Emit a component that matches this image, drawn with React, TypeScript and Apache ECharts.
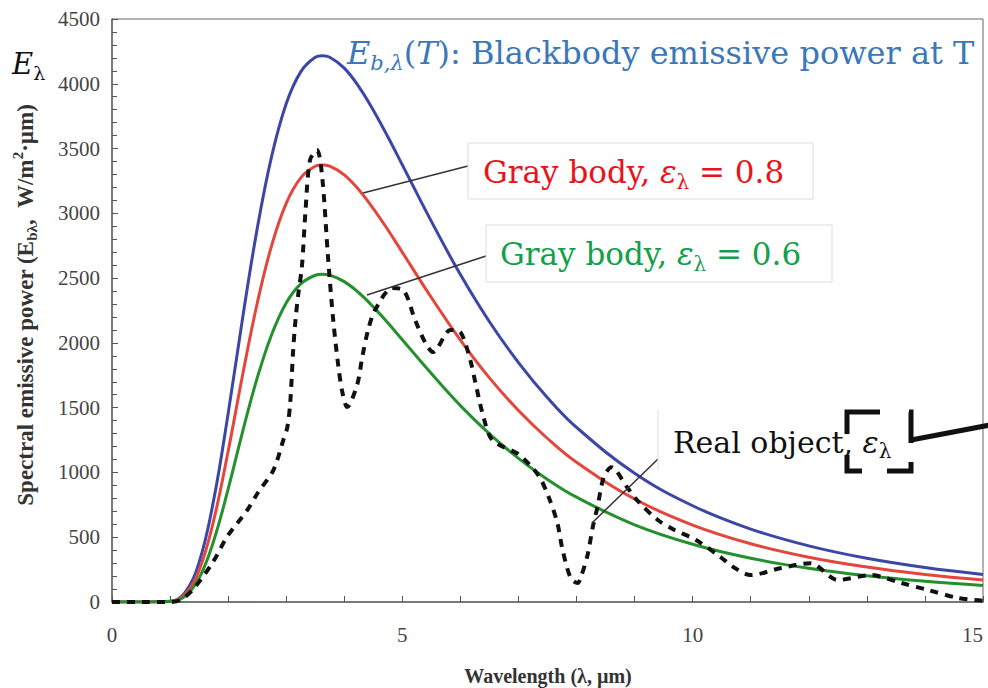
import React, { useEffect, useRef } from 'react';
import * as echarts from 'echarts';

// Wavelength grid (µm) for the smooth curves
const WAVELENGTH = [0, 0.5, 1, 1.25, 1.5, 1.75, 2, 2.25, 2.5, 2.75, 3, 3.25, 3.5, 3.62, 3.75, 4, 4.25, 4.5, 4.75, 5, 5.5, 6, 6.5, 7, 7.5, 8, 9, 10, 11, 12, 13, 14, 15];
// Blackbody emissive power (blue)
const BLACKBODY = [0, 0, 5.8, 69, 306, 785, 1454, 2193, 2880, 3441, 3846, 4092, 4204, 4216, 4205, 4121, 3978, 3796, 3591, 3374, 2938, 2527, 2163, 1848, 1577, 1348, 994, 743, 563, 433, 337, 266, 213];
// Gray body, emissivity 0.8 (red)
const GRAY_08 = [0, 0, 4.6, 55, 245, 628, 1163, 1754, 2304, 2753, 3077, 3274, 3363, 3373, 3364, 3297, 3182, 3037, 2873, 2699, 2350, 2022, 1730, 1478, 1262, 1078, 795, 594, 450, 346, 270, 213, 170];
// Gray body, emissivity 0.6 (green)
const GRAY_06 = [0, 0, 3.5, 41, 184, 471, 872, 1316, 1728, 2065, 2308, 2455, 2522, 2530, 2523, 2473, 2387, 2278, 2155, 2024, 1763, 1516, 1298, 1109, 946, 809, 596, 446, 338, 260, 202, 160, 128];
// Real object (black dashed)
const REAL_X = [0, 0.5, 1, 1.2, 1.43, 1.74, 1.98, 2.33, 2.52, 2.78, 2.95, 3.02, 3.07, 3.12, 3.16, 3.21, 3.27, 3.33, 3.41, 3.53, 3.62, 3.72, 3.81, 3.9, 3.97, 4.05, 4.22, 4.31, 4.41, 4.53, 4.83, 5.02, 5.22, 5.4, 5.53, 5.83, 6.0, 6.17, 6.26, 6.38, 6.55, 7.0, 7.34, 7.52, 7.67, 7.76, 7.9, 8.02, 8.07, 8.19, 8.28, 8.36, 8.47, 8.6, 8.88, 9.07, 9.4, 9.67, 10.05, 10.48, 10.7, 11.0, 11.52, 12.03, 12.5, 13.07, 13.59, 14.05, 14.57, 15.0];
const REAL_Y = [0, 0, 0, 20, 116, 309, 502, 710, 849, 1018, 1250, 1350, 1543, 1944, 2176, 2384, 2585, 3001, 3411, 3488, 3280, 2662, 2176, 1813, 1613, 1505, 1674, 1890, 2099, 2253, 2423, 2407, 2176, 1998, 1929, 2099, 2083, 1867, 1690, 1458, 1250, 1140, 980, 810, 610, 401, 185, 147, 185, 363, 579, 733, 965, 1040, 880, 772, 633, 560, 480, 347, 270, 208, 262, 300, 170, 208, 147, 93, 31, 10];

const X_MIN = 0, X_MAX = 15, X_STEP = 5;
const Y_MIN = 0, Y_MAX = 4500, Y_STEP = 500;

const TITLE = '): Blackbody emissive power at T';
const LABEL_GRAY = 'Gray body, ';
const LABEL_REAL = 'Real object, ';
const X_NAME = 'Wavelength (λ, µm)';

const SERIF = 'DejaVu Serif';
const TIMES = 'Liberation Serif';

export default function App() {
  const ref = useRef<HTMLDivElement>(null);
  useEffect(() => {
    const chart = echarts.init(ref.current!, null, { renderer: 'svg' });
    const pairs = (xs: number[], ys: number[]) => xs.map((x, i) => [x, ys[i]]);
    const blue = '#3b78b8';
    const richLabel = (color: string, size: number) => ({
      n: { fontFamily: SERIF, fontSize: size, fill: color, lineHeight: size + 8 },
      e: { fontFamily: SERIF, fontStyle: 'italic', fontSize: size, fill: color, lineHeight: size + 8 },
      s: { fontFamily: SERIF, fontStyle: 'italic', fontSize: Math.round(size * 0.66), fill: color, lineHeight: Math.round(size * 0.66), verticalAlign: 'bottom' },
      u: { fontFamily: SERIF, fontSize: Math.round(size * 0.66), fill: color, lineHeight: Math.round(size * 0.66), verticalAlign: 'bottom' },
    });
    const thick = { stroke: '#111', lineWidth: 5 };
    const plain = (v: number) => String(v);
    chart.setOption({
      animation: false,
      backgroundColor: '#fff',
      grid: { left: 112, right: 5, top: 19, bottom: 86, show: true, borderColor: '#666', borderWidth: 1, outerBoundsMode: 'none', containLabel: false },
      xAxis: {
        type: 'value', min: X_MIN, max: X_MAX, interval: X_STEP,
        axisLine: { show: true, lineStyle: { color: '#666', width: 1.5 } },
        axisTick: { show: true, inside: true, length: 6, lineStyle: { color: '#555' } },
        minorTick: { show: true, splitNumber: 5, length: 6, lineStyle: { color: '#555' } },
        splitLine: { show: false },
        axisLabel: { margin: 22, fontFamily: TIMES, fontSize: 21, color: '#444', formatter: plain, hideOverlap: false, alignMaxLabel: 'right' },
      },
      yAxis: {
        type: 'value', min: Y_MIN, max: Y_MAX, interval: Y_STEP,
        axisLine: { show: true, lineStyle: { color: '#666', width: 1.5 } },
        axisTick: { show: true, inside: true, length: 6, lineStyle: { color: '#555' } },
        minorTick: { show: true, splitNumber: 5, length: 5, lineStyle: { color: '#555' } },
        splitLine: { show: false },
        axisLabel: { margin: 12, fontFamily: TIMES, fontSize: 21, color: '#444', formatter: plain },
      },
      series: [
        { type: 'line', data: pairs(WAVELENGTH, BLACKBODY), smooth: 0.4, showSymbol: false, lineStyle: { color: '#3c46a5', width: 3 }, z: 3 },
        { type: 'line', data: pairs(WAVELENGTH, GRAY_08), smooth: 0.4, showSymbol: false, lineStyle: { color: '#e3463c', width: 3 }, z: 3 },
        { type: 'line', data: pairs(WAVELENGTH, GRAY_06), smooth: 0.4, showSymbol: false, lineStyle: { color: '#24902e', width: 3 }, z: 3 },
        { type: 'line', data: pairs(REAL_X, REAL_Y), smooth: 0.3, showSymbol: false, lineStyle: { color: '#111', width: 4, type: [8, 7] }, z: 4 },
      ],
      graphic: [
        // axis names
        { type: 'text', x: 25, y: 305, rotation: Math.PI / 2, z: 100,
          style: { text: '{n|Spectral emissive power (E}{u|bλ}{n|,  W/m}{p|2}{n|·µm)}', align: 'center', verticalAlign: 'middle',
            rich: {
              n: { fontFamily: TIMES, fontWeight: 'bold', fontSize: 23, fill: '#333', lineHeight: 29 },
              u: { fontFamily: TIMES, fontWeight: 'bold', fontSize: 15, fill: '#333', lineHeight: 15, verticalAlign: 'bottom' },
              p: { fontFamily: TIMES, fontWeight: 'bold', fontSize: 15, fill: '#333', lineHeight: 15, verticalAlign: 'top' },
            } } },
        { type: 'text', x: 548, y: 676, z: 100,
          style: { text: X_NAME, align: 'center', verticalAlign: 'middle', fontFamily: TIMES, fontWeight: 'bold', fontSize: 20, fill: '#333' } },
        // E_lambda at top-left
        { type: 'text', x: 12, y: 64, z: 100,
          style: { text: '{e|E}{u|λ}', align: 'left', verticalAlign: 'middle', rich: richLabel('#111', 29) } },
        // Blackbody title
        { type: 'text', x: 347, y: 53, z: 100,
          style: { text: '{e|E}{s|b,λ}{n|(}{e|T}{n|' + TITLE + '}', align: 'left', verticalAlign: 'middle', rich: richLabel(blue, 32) } },
        // Gray body 0.8
        { type: 'line', z: 90, shape: { x1: 468, y1: 166, x2: 363, y2: 193 }, style: { stroke: '#333', lineWidth: 1.5 } },
        { type: 'rect', z: 95, shape: { x: 468, y: 143, width: 345, height: 56 }, style: { fill: '#fff', stroke: '#ddd', lineWidth: 1 } },
        { type: 'text', x: 483, y: 172, z: 100,
          style: { text: '{n|' + LABEL_GRAY + '}{e|ε}{u|λ}{n| = 0.8}', align: 'left', verticalAlign: 'middle', rich: richLabel('#e8141a', 31) } },
        // Gray body 0.6
        { type: 'line', z: 90, shape: { x1: 486, y1: 256, x2: 367, y2: 295 }, style: { stroke: '#333', lineWidth: 1.5 } },
        { type: 'rect', z: 95, shape: { x: 486, y: 225, width: 346, height: 57 }, style: { fill: '#fff', stroke: '#ddd', lineWidth: 1 } },
        { type: 'text', x: 500, y: 254, z: 100,
          style: { text: '{n|' + LABEL_GRAY + '}{e|ε}{u|λ}{n| = 0.6}', align: 'left', verticalAlign: 'middle', rich: richLabel('#13a04a', 31) } },
        // Real object
        { type: 'line', z: 90, shape: { x1: 658, y1: 459, x2: 592, y2: 523 }, style: { stroke: '#333', lineWidth: 1.5 } },
        { type: 'rect', z: 95, shape: { x: 658, y: 410, width: 250, height: 60 }, style: { fill: '#fff', stroke: null } },
        { type: 'line', z: 96, shape: { x1: 658, y1: 410, x2: 658, y2: 470 }, style: { stroke: '#ddd', lineWidth: 1 } },
        { type: 'text', x: 673, y: 442, z: 100,
          style: { text: '{n|' + LABEL_REAL + '}{e|ε}{u|λ}', align: 'left', verticalAlign: 'middle', rich: richLabel('#111', 30) } },
        // dashed bracket around epsilon
        { type: 'polyline', z: 101, shape: { points: [[847, 434], [847, 412], [880, 412]] }, style: thick },
        { type: 'polyline', z: 101, shape: { points: [[909, 412], [911, 412], [911, 443]] }, style: thick },
        { type: 'polyline', z: 101, shape: { points: [[847, 455], [847, 471], [862, 471]] }, style: thick },
        { type: 'polyline', z: 101, shape: { points: [[887, 471], [911, 471], [911, 462]] }, style: thick },
        { type: 'line', z: 101, shape: { x1: 911, y1: 440, x2: 990, y2: 425 }, style: thick },
      ],
    });
    return () => chart.dispose();
  }, []);
  return <div ref={ref} style={{ position: 'fixed', left: 0, top: 0, width: 988, height: 688, background: '#fff' }} />;
}
